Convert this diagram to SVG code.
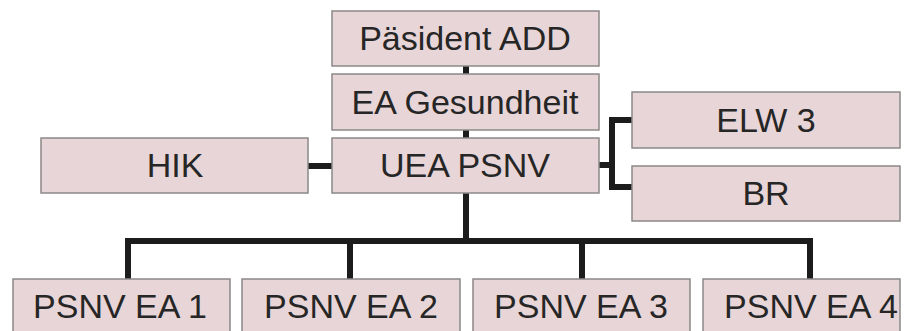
<svg xmlns="http://www.w3.org/2000/svg" width="909" height="331" viewBox="0 0 909 331">
<style>
.box{fill:#e8d5d7;stroke:#8c8888;stroke-width:1.5}
.t{font-family:"Liberation Sans",Arial,sans-serif;font-size:34px;fill:#262626;text-anchor:middle}
.c{fill:none;stroke:#1c1c1c;stroke-width:6;stroke-linejoin:miter;stroke-linecap:butt}
</style>
<rect width="909" height="331" fill="#ffffff"/>
<g id="connectors">
<path class="c" d="M466 66V74M466 130V138M308 166H332M599 165H612M632 120H612V187H632M466 193V241M125 241H813M128 241V279M350 241V279M582 241V279M810 241V279"/>
</g>
<g id="n_praesident"><rect class="box" x="332" y="11" width="267" height="55"/><text class="t" x="465" y="50">Päsident ADD</text></g>
<g id="n_ea"><rect class="box" x="332" y="74" width="267" height="56"/><text class="t" x="465" y="114">EA Gesundheit</text></g>
<g id="n_uea"><rect class="box" x="332" y="138" width="267" height="55"/><text class="t" x="465" y="177">UEA PSNV</text></g>
<g id="n_hik"><rect class="box" x="41" y="138" width="267" height="55"/><text class="t" x="175" y="177">HIK</text></g>
<g id="n_elw"><rect class="box" x="632" y="92" width="268" height="56"/><text class="t" x="766" y="132">ELW 3</text></g>
<g id="n_br"><rect class="box" x="632" y="166" width="268" height="55"/><text class="t" x="766" y="205">BR</text></g>
<g id="n_ea1"><rect class="box" x="13" y="279" width="217" height="56"/><text class="t" x="120" y="318">PSNV EA 1</text></g>
<g id="n_ea2"><rect class="box" x="242" y="279" width="218" height="56"/><text class="t" x="351" y="318">PSNV EA 2</text></g>
<g id="n_ea3"><rect class="box" x="473" y="279" width="217" height="56"/><text class="t" x="581" y="318">PSNV EA 3</text></g>
<g id="n_ea4"><rect class="box" x="703" y="279" width="197" height="56"/><text class="t" x="811" y="318">PSNV EA 4</text></g>
</svg>
